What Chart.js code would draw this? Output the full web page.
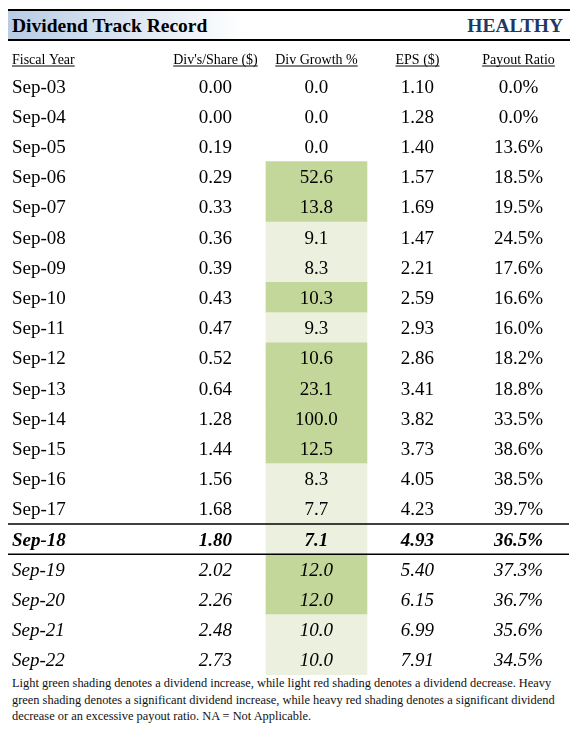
<!DOCTYPE html>
<html>
<head>
<meta charset="utf-8">
<script src="https://cdn.jsdelivr.net/npm/chart.js@4.4.1/dist/chart.umd.min.js"></script>
<style>
  body { margin: 0; background: #fff; font-family: "Liberation Serif", "Times New Roman", serif; }
  #wrap { position: relative; width: 579px; height: 730px; }
  #title {
    position: absolute; top: 9px; left: 8px; width: 562px; height: 28px;
    border-top: 2px solid #000; border-bottom: 2px solid #000;
    background: linear-gradient(to right, #b8cce4 0%, #ffffff 42%);
    font-weight: bold; font-size: 19.5px; line-height: 28px;
  }
  #title .l { position: absolute; left: 4px; top: 1px; color: #000; }
  #title .r { position: absolute; right: 7px; top: 1px; color: #1f3864; }
  #tbl { position: absolute; top: 40px; left: 0; }
  #note {
    position: absolute; top: 675px; left: 12px; width: 565px;
    font-size: 12.4px; line-height: 16.7px; color: #111; white-space: nowrap;
  }
</style>
</head>
<body>
<div id="wrap">
  <div id="title"><span class="l">Dividend Track Record</span><span class="r">HEALTHY</span></div>
  <canvas id="tbl" width="579" height="635"></canvas>
  <div id="note">Light green shading denotes a dividend increase, while light red shading denotes a dividend decrease. Heavy<br>green shading denotes a significant dividend increase, while heavy red shading denotes a significant dividend<br>decrease or an excessive payout ratio. NA = Not Applicable.</div>
</div>
<script>
// datos de la tabla
const columns = ["Fiscal Year", "Div's/Share ($)", "Div Growth %", "EPS ($)", "Payout Ratio"];
const years = ['Sep-03', 'Sep-04', 'Sep-05', 'Sep-06', 'Sep-07', 'Sep-08', 'Sep-09', 'Sep-10', 'Sep-11', 'Sep-12',
               'Sep-13', 'Sep-14', 'Sep-15', 'Sep-16', 'Sep-17', 'Sep-18', 'Sep-19', 'Sep-20', 'Sep-21', 'Sep-22'];
const divPerShare = [0.00, 0.00, 0.19, 0.29, 0.33, 0.36, 0.39, 0.43, 0.47, 0.52, 0.64, 1.28, 1.44, 1.56, 1.68, 1.80, 2.02, 2.26, 2.48, 2.73];
const divGrowth = [0.0, 0.0, 0.0, 52.6, 13.8, 9.1, 8.3, 10.3, 9.3, 10.6, 23.1, 100.0, 12.5, 8.3, 7.7, 7.1, 12.0, 12.0, 10.0, 10.0];
const eps = [1.10, 1.28, 1.40, 1.57, 1.69, 1.47, 2.21, 2.59, 2.93, 2.86, 3.41, 3.82, 3.73, 4.05, 4.23, 4.93, 5.40, 6.15, 6.99, 7.91];
const payoutRatio = [0.0, 0.0, 13.6, 18.5, 19.5, 24.5, 17.6, 16.6, 16.0, 18.2, 18.8, 33.5, 38.6, 38.5, 39.7, 36.5, 37.3, 36.7, 35.6, 34.5];
const shading = ['none', 'none', 'none', 'heavy', 'heavy', 'light', 'light', 'heavy', 'light', 'heavy',
                 'heavy', 'heavy', 'heavy', 'light', 'light', 'light', 'heavy', 'heavy', 'light', 'light'];
const currentYear = 'Sep-18';

const shadeColors = { heavy: '#c4d79b', light: '#ebf1de', none: 'rgba(0,0,0,0)' };
const growthCol = 1; // columna de Div Growth % en el eje x (0 = Div's/Share)

// texto de celdas y encabezados
const tablePlugin = {
    id: 'tableText',
    afterDatasetsDraw(chart) {
        const ctx = chart.ctx;
        const x = chart.scales.x;
        const y = chart.scales.y;
        const area = chart.chartArea;
        const rowH = y.getPixelForValue(1) - y.getPixelForValue(0);
        const cur = years.indexOf(currentYear);

        ctx.save();
        ctx.fillStyle = '#000';
        ctx.strokeStyle = '#000';

        // encabezados subrayados
        ctx.font = '14px "Liberation Serif"';
        ctx.textBaseline = 'alphabetic';
        const hy = area.top - 7.5;
        columns.forEach(function(label, c) {
            const w = ctx.measureText(label).width;
            let left;
            if (c === 0) {
                left = area.left + 4;
            } else {
                left = x.getPixelForValue(c - 1 + 0.5) - w / 2;
            }
            ctx.textAlign = 'left';
            ctx.fillText(label, left, hy);
            ctx.lineWidth = 1;
            ctx.beginPath();
            ctx.moveTo(left, hy + 2.5);
            ctx.lineTo(left + w, hy + 2.5);
            ctx.stroke();
        });

        // filas
        years.forEach(function(year, i) {
            const cy = y.getPixelForValue(i) + 6.5;
            let style = '';
            if (i === cur) style = 'italic bold ';
            else if (i > cur) style = 'italic ';
            ctx.font = style + '19px "Liberation Serif"';
            const cells = [
                divPerShare[i].toFixed(2),
                divGrowth[i].toFixed(1),
                eps[i].toFixed(2),
                payoutRatio[i].toFixed(1) + '%'
            ];
            ctx.textAlign = 'left';
            ctx.fillText(year, area.left + 4, cy);
            ctx.textAlign = 'center';
            cells.forEach(function(txt, c) {
                ctx.fillText(txt, x.getPixelForValue(c + 0.5), cy);
            });
        });

        // líneas del año actual
        const yc = y.getPixelForValue(cur);
        ctx.lineWidth = 1.5;
        [yc - rowH / 2, yc + rowH / 2].forEach(function(ly) {
            ctx.beginPath();
            ctx.moveTo(area.left, ly);
            ctx.lineTo(area.right, ly);
            ctx.stroke();
        });
        ctx.restore();
    }
};

const tblCtx = document.getElementById('tbl').getContext('2d');
const tblChart = new Chart(tblCtx, {
    type: 'bar',
    data: {
        labels: years,
        datasets: [{
            label: 'Div Growth %',
            data: shading.map(function(s) { return s === 'none' ? null : [growthCol, growthCol + 1]; }),
            backgroundColor: shading.map(function(s) { return shadeColors[s]; }),
            borderWidth: 0,
            barPercentage: 1,
            categoryPercentage: 1
        }]
    },
    options: {
        indexAxis: 'y',
        responsive: false,
        animation: false,
        layout: {
            padding: { left: 8, right: 10, top: 31, bottom: 0 }
        },
        plugins: {
            legend: { display: false },
            tooltip: { enabled: false }
        },
        scales: {
            x: {
                type: 'linear',
                min: -1.554,
                max: 4,
                display: false
            },
            y: {
                display: false
            }
        }
    },
    plugins: [tablePlugin]
});
</script>
</body>
</html>
